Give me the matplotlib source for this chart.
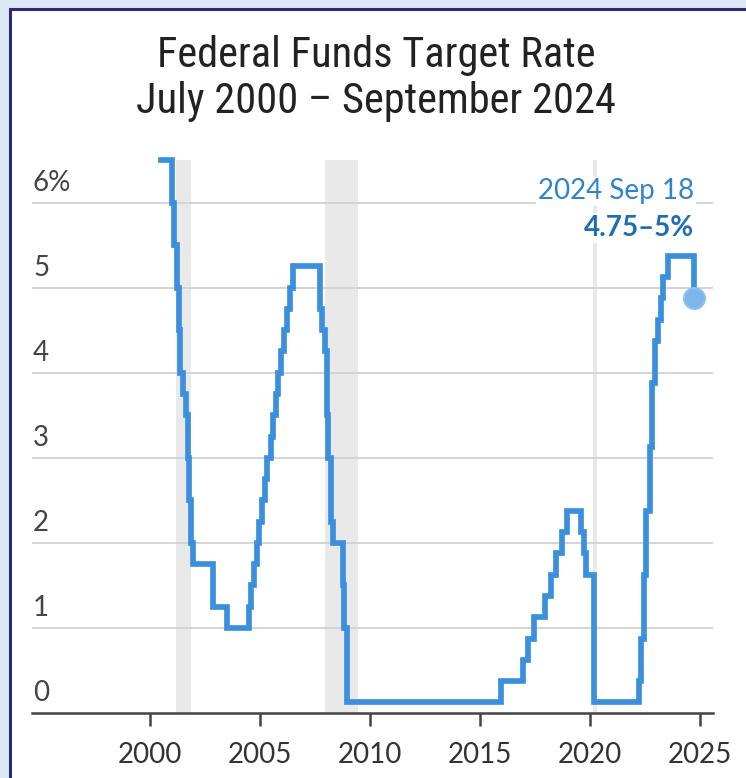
import matplotlib
matplotlib.use("Agg")
import matplotlib.pyplot as plt
import matplotlib.transforms as mtransforms
from matplotlib import font_manager
from matplotlib.patches import Rectangle
import numpy as np

# ---------------- data ----------------
# decimal-year dates of target changes and target rate (midpoint of range, %)
change_dates = [2000.5, 2001.003, 2001.083, 2001.214, 2001.296, 2001.367, 2001.488,
                2001.638, 2001.71, 2001.751, 2001.849, 2001.945,
                2002.849, 2003.482, 2004.493, 2004.608, 2004.721, 2004.86, 2004.953,
                2005.088, 2005.219, 2005.334, 2005.493, 2005.605, 2005.718, 2005.833,
                2005.948, 2006.082, 2006.236, 2006.356, 2006.493,
                2007.715, 2007.83, 2007.945, 2008.055, 2008.077, 2008.211, 2008.329,
                2008.77, 2008.827, 2008.959,
                2015.959, 2016.953, 2017.2, 2017.451, 2017.948, 2018.219, 2018.449,
                2018.737, 2018.966, 2019.578, 2019.715, 2019.83,
                2020.17, 2020.203, 2022.206, 2022.34, 2022.455, 2022.567, 2022.723,
                2022.836, 2022.953, 2023.085, 2023.219, 2023.336, 2023.566, 2024.715]
target_rate = [6.5, 6.0, 5.5, 5.0, 4.5, 4.0, 3.75,
               3.5, 3.0, 2.5, 2.0, 1.75,
               1.25, 1.0, 1.25, 1.5, 1.75, 2.0, 2.25,
               2.5, 2.75, 3.0, 3.25, 3.5, 3.75, 4.0,
               4.25, 4.5, 4.75, 5.0, 5.25,
               4.75, 4.5, 4.25, 3.5, 3.0, 2.25, 2.0,
               1.5, 1.0, 0.125,
               0.375, 0.625, 0.875, 1.125, 1.375, 1.625, 1.875,
               2.125, 2.375, 2.125, 1.875, 1.625,
               1.125, 0.125, 0.375, 0.875, 1.625, 2.375, 3.125,
               3.875, 4.375, 4.625, 4.875, 5.125, 5.375, 4.875]

recessions = [(2001.2, 2001.88), (2007.95, 2009.45), (2020.12, 2020.3)]

x_ticks = [2000, 2005, 2010, 2015, 2020, 2025]
y_ticks = [0, 1, 2, 3, 4, 5, 6]
y_tick_labels = ["0", "1", "2", "3", "4", "5", "6%"]

title_lines = ["Federal Funds Target Rate", "July 2000 \u2013 September 2024"]
annot_date = "2024 Sep 18"
annot_value = "4.75\u20135%"

# ---------------- fonts ----------------
available = {f.name for f in font_manager.fontManager.ttflist}
def pick(cands):
    for c in cands:
        if c in available:
            return c
    return "DejaVu Sans"

title_font = pick(["Liberation Sans Narrow", "Roboto Condensed", "Open Sans Condensed",
                   "Roboto", "DejaVu Sans"])
body_font = pick(["Lato", "Open Sans", "Noto Sans", "DejaVu Sans"])

# ---------------- figure ----------------
W, H = 746, 778
fig = plt.figure(figsize=(W / 100, H / 100), dpi=100)
fig.patch.set_facecolor("#dce8f6")

# white panel with navy border
panel = Rectangle((10 / W, -0.01), 1 - 10 / W + 0.01, 1 - 9 / H + 0.01, transform=fig.transFigure,
                  facecolor="white", edgecolor="#2b2b6f", linewidth=2.2, zorder=-5)
fig.patches.append(panel)

ax_left, ax_right = 32 / W, 713 / W
ax_bottom, ax_top = 1 - 713 / H, 1 - 160 / H
ax = fig.add_axes([ax_left, ax_bottom, ax_right - ax_left, ax_top - ax_bottom])
ax.set_facecolor("none")
ax.set_zorder(2)

x_per_px = 25 / (700 - 150)
xmin = 2000 - (150 - 32) * x_per_px
xmax = 2025 + (713 - 700) * x_per_px
ax.set_xlim(xmin, xmax)
ax.set_ylim(0, 6.5)

for a, b in recessions:
    ax.axvspan(a, b, color="#e9e9e9", lw=0, zorder=1)

for v in y_ticks[1:]:
    ax.axhline(v, color="#d4d4d4", lw=1.4, zorder=2)

ax.plot(change_dates, target_rate, drawstyle="steps-post", color="#3b90de",
        lw=4.1, solid_joinstyle="miter", clip_on=False, zorder=4)
ax.plot([change_dates[-1]], [target_rate[-1]], "o", ms=15, color="#7db7ea",
        mec="#8cc0ee", mew=1.5, zorder=5, clip_on=False)

for s in ["top", "right", "left"]:
    ax.spines[s].set_visible(False)
ax.spines["bottom"].set_color("#444444")
ax.spines["bottom"].set_linewidth(1.8)
ax.spines["bottom"].set_zorder(6)

ax.set_xticks(x_ticks)
ax.set_xticklabels([str(t) for t in x_ticks], fontsize=20, color="#333333", family=body_font)
ax.tick_params(axis="x", direction="out", length=9, width=1.8, color="#444444", pad=12)
ax.set_yticks([])

trans = mtransforms.blended_transform_factory(ax.transAxes, ax.transData)
off = mtransforms.offset_copy(trans, fig=fig, x=1, y=7, units="dots")
for v, lab in zip(y_ticks, y_tick_labels):
    ax.text(0, v, lab, transform=off, ha="left", va="bottom", fontsize=20,
            color="#444444", family=body_font)

# annotation
ax.text(2024.75, 6.13, annot_date, ha="right", va="center", fontsize=20,
        color="#2f84cc", family=body_font, zorder=7,
        bbox=dict(facecolor="white", edgecolor="none", pad=1.5))
ax.text(2024.75, 5.7, annot_value, ha="right", va="center", fontsize=20,
        color="#1f6db5", family=body_font, fontweight="bold", zorder=7,
        bbox=dict(facecolor="white", edgecolor="none", pad=1.5))

fig.text(376 / W, 1 - 55 / H, title_lines[0], ha="center", va="center",
         fontsize=30.5, color="#222222", family=title_font)
fig.text(376 / W, 1 - 101 / H, title_lines[1], ha="center", va="center",
         fontsize=30.5, color="#222222", family=title_font)

fig.savefig("out.png", dpi=100, facecolor=fig.get_facecolor())
